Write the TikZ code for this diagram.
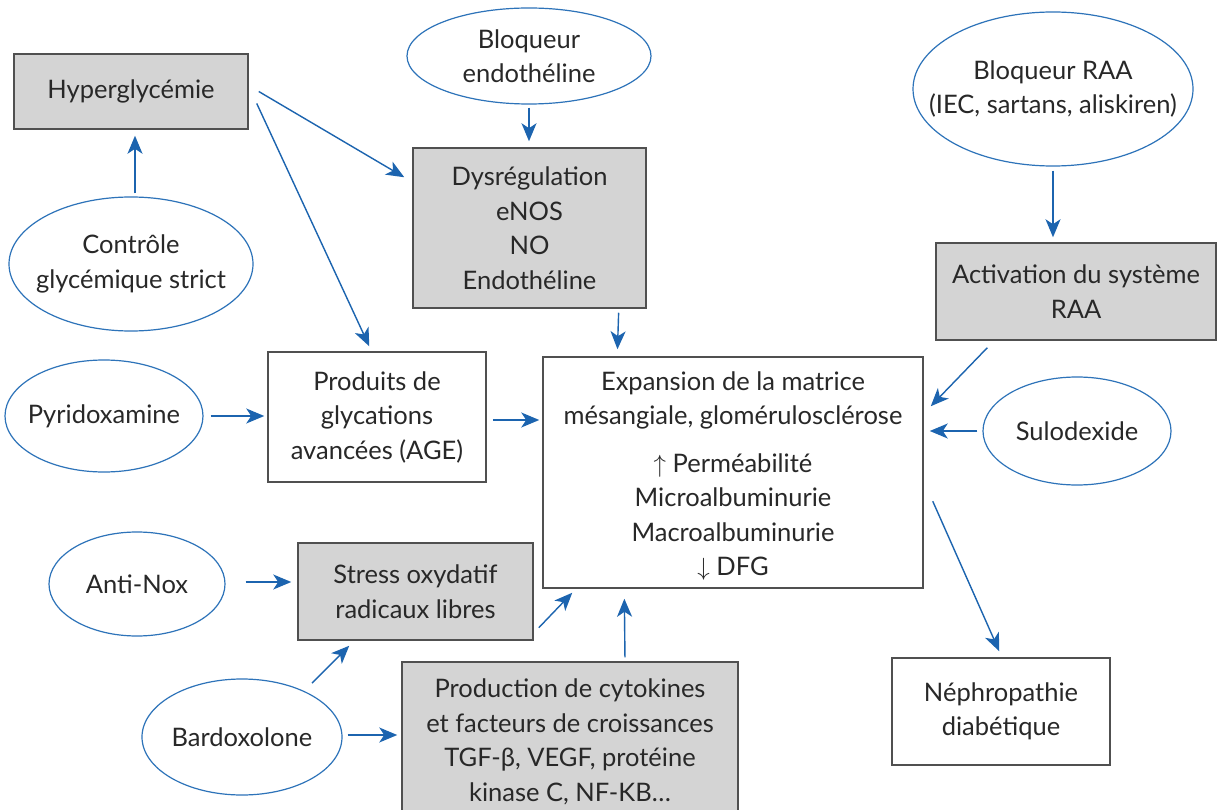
\documentclass[tikz,border=0pt]{standalone}
\usepackage{fontspec}
\setmainfont{Lato}
\usetikzlibrary{shapes.geometric,arrows.meta,calc}
\definecolor{boxfill}{RGB}{212,212,212}
\definecolor{boxline}{RGB}{80,80,80}
\definecolor{ellline}{RGB}{45,115,185}
\definecolor{arrcol}{RGB}{28,100,175}
\definecolor{txtcol}{RGB}{40,40,40}
\tikzset{
  base/.style={inner sep=0pt, align=center, text=txtcol, font=\fontsize{25.5}{34.5}\selectfont},
  gbox/.style={base, rectangle, draw=boxline, line width=1.5pt, fill=boxfill},
  wbox/.style={base, rectangle, draw=boxline, line width=1.5pt, fill=white},
  ell/.style={inner sep=0pt, ellipse, draw=ellline, line width=1.2pt, fill=white,
    label={[base]center:#1}},
  arr/.style={draw=arrcol, line width=1.4pt, -{Stealth[length=18pt,width=15pt,inset=5pt]}},
}
\begin{document}
\begin{tikzpicture}[x=1pt,y=-1pt]
\useasboundingbox (0,0) rectangle (1220,810);
\clip (0,0) rectangle (1220,810);
\fill[white] (0,0) rectangle (1220,810);

% boxes
\node[gbox, minimum width=234, minimum height=75] (hyp) at (131,91.5) {Hyperglycémie};
\node[gbox, minimum width=233, minimum height=160] (dys) at (529.5,228) {Dysrégulation\\eNOS\\NO\\Endothéline};
\node[gbox, minimum width=280, minimum height=97] (act) at (1076,291.5) {Activation du système\\RAA};
\node[wbox, minimum width=218, minimum height=130] (prod) at (377,417) {Produits de\\glycations\\avancées (AGE)};
\node[wbox, minimum width=380, minimum height=231] (exp) at (733,472.5) {};
\node[base, align=center] (exptxt) at (733,476) {Expansion de la matrice\\mésangiale, glomérulosclérose\\[13pt]$\uparrow$\ Perméabilité\\Microalbuminurie\\Macroalbuminurie\\$\downarrow$\ DFG};
\node[gbox, minimum width=235, minimum height=97] (stress) at (415.5,591.5) {Stress oxydatif\\radicaux libres};
\node[gbox, minimum width=336, minimum height=160] (prodc) at (570,742) {Production de cytokines\\et facteurs de croissances\\TGF-β, VEGF, protéine\\kinase C, NF-KB\ldots};
\node[wbox, minimum width=218, minimum height=107] (neph) at (1001,711.5) {Néphropathie\\diabétique};

% ellipses
\node[ell={Contrôle\\glycémique strict}, minimum width=244, minimum height=134] (ctrl) at (131,264) {};
\node[ell={Bloqueur\\endothéline}, minimum width=244, minimum height=96] (bloqE) at (529,56) {};
\node[ell={Bloqueur RAA\\(IEC, sartans, aliskiren)}, minimum width=280, minimum height=154] (bloqR) at (1053,89) {};
\node[ell={Sulodexide}, minimum width=188, minimum height=108] (sulo) at (1077,431) {};
\node[ell={Pyridoxamine}, minimum width=198, minimum height=112] (pyr) at (104,416) {};
\node[ell={Anti-Nox}, minimum width=176, minimum height=104] (anti) at (137,584) {};
\node[ell={Bardoxolone}, minimum width=200, minimum height=116] (bard) at (242,737) {};

% connectors
\draw[arr, shorten <=3pt, shorten >=6pt] (ctrl.north -| 135,0) -- (hyp.south -| 135,0);
\draw[arr, shorten <=3pt, shorten >=6pt] (bloqE.south) -- (bloqE.south |- dys.north);
\draw[arr] ($(hyp.east)+(10,0)$) -- ($(dys.north west)+(-8,30)$);
\draw[arr] ($(hyp.east)+(8,12)$) -- ($(prod.north west)+(102,-5)$);
\draw[arr, shorten <=4pt, shorten >=5pt] (bloqR.south) -- (bloqR.south |- act.north);
\draw[arr] ($(act.south west)+(52,7)$) -- ($(exp.north east)+(7,50)$);
\draw[arr, shorten <=5pt, shorten >=6pt] (sulo.west) -- (sulo.west -| exp.east);
\draw[arr, shorten <=4pt, shorten >=7pt] ($(dys.south east)+(-28,0)$) -- ($(exp.north west)+(75,0)$);
\draw[arr, shorten <=7pt, shorten >=3pt] (pyr.east) -- (pyr.east -| prod.west);
\draw[arr, shorten <=6pt, shorten >=3pt] ($(prod.east)+(0,3)$) -- ($(prod.east -| exp.west)+(0,3)$);
\draw[arr, shorten <=20pt, shorten >=6pt] ($(anti.east)+(0,-2)$) -- ($(anti.east -| stress.west)+(0,-2)$);
\draw[arr] ($(stress.south east)+(5,-13)$) -- ($(exp.south west)+(30,4)$);
\draw[arr] ($(bard.center)+(70,-54)$) -- ($(stress.south west)+(52,5)$);
\draw[arr, shorten <=5pt, shorten >=4pt] ($(bard.east)+(0,-2)$) -- ($(bard.east -| prodc.west)+(0,-2)$);
\draw[arr, shorten <=4pt, shorten >=10pt] ($(prodc.north)+(55,0)$) -- ($(exp.south west)+(82,0)$);
\draw[arr] ($(exp.north east)+(9,145)$) -- ($(neph.north west)+(108,-6)$);
\end{tikzpicture}
\end{document}
